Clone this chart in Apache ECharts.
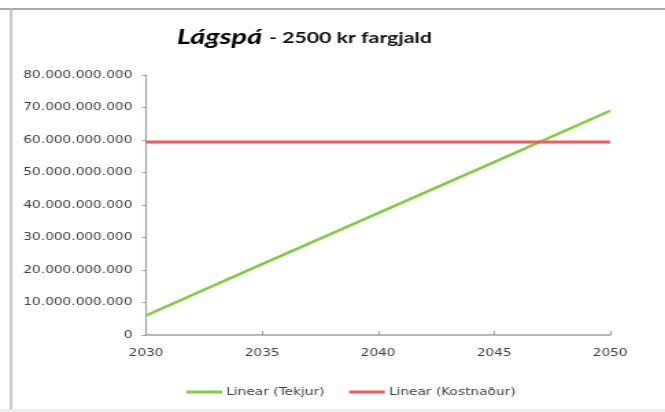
<!DOCTYPE html>
<html>
<head>
<meta charset="utf-8">
<script src="https://cdn.jsdelivr.net/npm/echarts@6/dist/echarts.min.js"></script>
<style>
  html, body { margin: 0; padding: 0; background: #fff; overflow: hidden; }
  #wrap { width: 665px; height: 412px; overflow: hidden; background: #fff; }
  /* the reference is a horizontally stretched screenshot, so draw narrow and stretch */
  #chart { width: 486px; height: 412px; transform: scaleX(1.3711); transform-origin: 0 0; }
</style>
</head>
<body>
<div id="wrap"><div id="chart"></div></div>
<script>
// trendlines, value per year
const years = [2030, 2035, 2040, 2045, 2050]
const tekjur = [6.0e9, 21.8e9, 37.5e9, 53.2e9, 69.0e9]
const kostnadur = [59.4e9, 59.4e9, 59.4e9, 59.4e9, 59.4e9]
const seriesNames = ['Linear (Tekjur)', 'Linear (Kostnaður)']

const fmt = v => String(Math.round(v)).replace(/\B(?=(\d{3})+(?!\d))/g, '.')

const chart = echarts.init(document.getElementById('chart'))
chart.setOption({
  animation: false,
  backgroundColor: '#fff',
  title: {
    text: '{a|Lágspá} {b|- 2500 kr fargjald}',
    left: 124,
    top: 22,
    textStyle: {
      rich: {
        a: { fontFamily: 'Lato', fontSize: 21, fontStyle: 'italic', fontWeight: 'bold', color: '#000' },
        b: { fontFamily: 'Lato', fontSize: 15.5, fontWeight: 'bold', color: '#111' }
      }
    }
  },
  legend: {
    data: seriesNames,
    left: 131,
    top: 382,
    itemWidth: 26,
    itemHeight: 3,
    itemGap: 18,
    icon: 'rect',
    textStyle: { fontFamily: 'DejaVu Sans', fontSize: 10, color: '#404040', padding: [0, 0, 0, -2] }
  },
  grid: { left: 106.5, right: 41, top: 75, bottom: 77 },
  xAxis: {
    type: 'value',
    min: 2030,
    max: 2050,
    interval: 5,
    splitLine: { show: false },
    axisLine: { lineStyle: { color: '#a0a0a0', width: 1.5 } },
    axisTick: { show: true, inside: true, length: 4, lineStyle: { color: '#a0a0a0' } },
    axisLabel: { fontFamily: 'DejaVu Sans', fontSize: 10, color: '#404040', margin: 13, formatter: v => String(v) }
  },
  yAxis: {
    type: 'value',
    min: 0,
    max: 80e9,
    interval: 10e9,
    splitLine: { show: false },
    axisLine: { show: true, lineStyle: { color: '#a0a0a0', width: 1.2 } },
    axisTick: { show: true, length: 3, lineStyle: { color: '#a0a0a0' } },
    axisLabel: { fontFamily: 'DejaVu Sans', fontSize: 10, color: '#404040', margin: 10, formatter: fmt }
  },
  series: [
    {
      name: seriesNames[0],
      type: 'line',
      data: years.map((y, i) => [y, tekjur[i]]),
      showSymbol: false,
      itemStyle: { color: '#7fcf3a' },
      lineStyle: { color: '#7fcf3a', width: 2.6 }
    },
    {
      name: seriesNames[1],
      type: 'line',
      data: years.map((y, i) => [y, kostnadur[i]]),
      showSymbol: false,
      itemStyle: { color: '#ff5757' },
      lineStyle: { color: '#ff5757', width: 3 }
    }
  ],
  graphic: [
    { type: 'rect', shape: { x: 0, y: 8, width: 486, height: 2 }, style: { fill: '#a8a8a8' }, silent: true },
    { type: 'rect', shape: { x: 7.3, y: 8, width: 1.5, height: 401 }, style: { fill: '#b8b8b8' }, silent: true },
    { type: 'rect', shape: { x: 0, y: 409, width: 486, height: 3 }, style: { fill: '#eeeeee' }, silent: true }
  ]
})
</script>
</body>
</html>
